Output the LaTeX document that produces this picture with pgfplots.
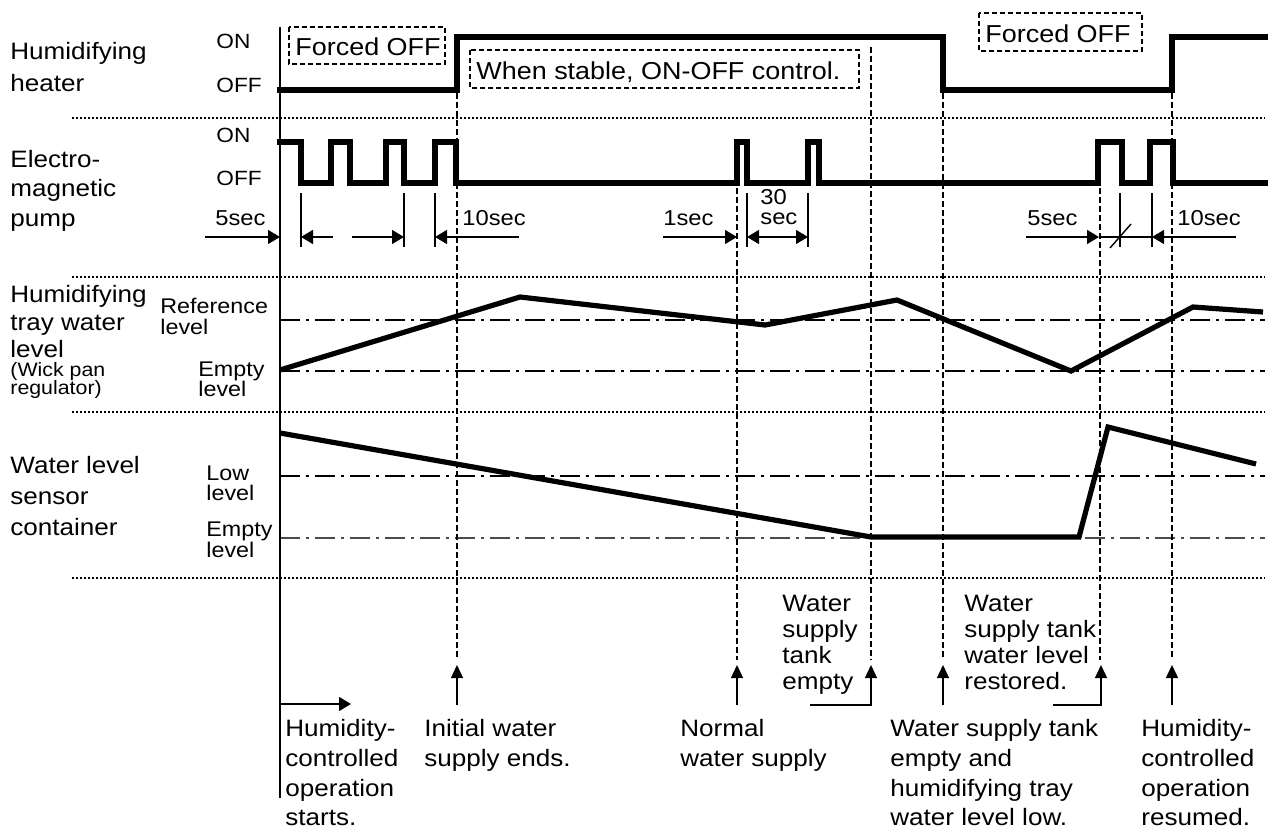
\documentclass[border=0pt]{standalone}
\usepackage{pgfplots}
\pgfplotsset{compat=1.18}
\usepackage{fontspec}
\setmainfont{Liberation Sans}[FakeStretch=1.1]
\usetikzlibrary{arrows.meta}
\begin{document}
\begin{tikzpicture}[
  big/.style={anchor=base west, inner sep=0pt, font=\fontsize{11.85}{14}\selectfont},
  med/.style={anchor=base west, inner sep=0pt, font=\fontsize{10.3}{12}\selectfont},
  tim/.style={anchor=base west, inner sep=0pt, font=\fontsize{10.8}{12}\selectfont},
  sml/.style={anchor=base west, inner sep=0pt, font=\fontsize{10.6}{12}\selectfont},
  tiny/.style={anchor=base west, inner sep=0pt, font=\fontsize{9.7}{11}\selectfont},
  box/.style={anchor=base west, inner sep=0pt, font=\fontsize{12.25}{14}\selectfont},
]
\begin{axis}[width=635pt, height=415pt, scale only axis,
  xmin=0, xmax=1270, ymin=0, ymax=830, y dir=reverse,
  hide axis, clip=false]
\path (axis cs:0,0) rectangle (axis cs:1270,830);
\pgfplotsset{sep/.style={black, line width=1pt, dash pattern=on 1pt off 1pt},
  lvl/.style={black, line width=0.7pt, dash pattern=on 10pt off 3pt on 1.5pt off 3pt},
  vd/.style={black, line width=0.8pt, dash pattern=on 3pt off 1.5pt},
  sig/.style={black, line width=2.6pt, line join=miter, line cap=rect},
  thin/.style={black, line width=0.7pt},
  tip/.style={-{Triangle[length=6pt,width=7pt]}},
  utip/.style={-{Triangle[length=6.5pt,width=6pt]}}}
% separators
\addplot[sep] coordinates {(72,118) (1265,118)};
\addplot[sep] coordinates {(72,277) (1265,277)};
\addplot[sep] coordinates {(72,412) (1265,412)};
\addplot[sep] coordinates {(72,578) (1265,578)};
% level lines
\addplot[lvl] coordinates {(280,320) (1265,320)};
\addplot[lvl] coordinates {(280,371) (1265,371)};
\addplot[lvl] coordinates {(280,476) (1265,476)};
\addplot[lvl, black!70] coordinates {(280,538) (1265,538)};
% vertical dashed lines
\addplot[vd] coordinates {(457,93) (457,660)};
\addplot[vd] coordinates {(737,188) (737,660)};
\addplot[vd] coordinates {(871,47) (871,660)};
\addplot[vd] coordinates {(943,93) (943,660)};
\addplot[vd] coordinates {(1100,188) (1100,660)};
\addplot[vd] coordinates {(1172,93) (1172,660)};
% solid start line
\addplot[thin] coordinates {(280,27) (280,798)};
\addplot[thin, tip] coordinates {(280,704) (351,704)};
% bottom arrows
\addplot[thin, utip] coordinates {(457,705) (457,665)};
\addplot[thin, utip] coordinates {(737,705) (737,665)};
\addplot[thin, utip] coordinates {(810,705) (871,705) (871,665)};
\addplot[thin, utip] coordinates {(943,705) (943,665)};
\addplot[thin, utip] coordinates {(1053,705) (1101,705) (1101,665)};
\addplot[thin, utip] coordinates {(1172,705) (1172,665)};
% timing ticks
\addplot[thin] coordinates {(301,193) (301,247)};
\addplot[thin] coordinates {(404,193) (404,247)};
\addplot[thin] coordinates {(435,193) (435,247)};
\addplot[thin] coordinates {(747,193) (747,247)};
\addplot[thin] coordinates {(808,193) (808,247)};
\addplot[thin] coordinates {(1120,193) (1120,247)};
\addplot[thin] coordinates {(1152,193) (1152,247)};
\addplot[thin, tip] coordinates {(205,237) (280,237)};
\addplot[thin, tip] coordinates {(333,237) (301,237)};
\addplot[thin, tip] coordinates {(352,237) (404,237)};
\addplot[thin, tip] coordinates {(519,237) (435,237)};
\addplot[thin, tip] coordinates {(663,237) (737,237)};
\addplot[thin, {Triangle[length=6pt,width=7pt]}-{Triangle[length=6pt,width=7pt]}] coordinates {(747,237) (808,237)};
\addplot[thin, tip] coordinates {(1026,237) (1099,237)};
\addplot[thin] coordinates {(1099,237) (1152,237)};
\addplot[thin] coordinates {(1110,248) (1131,224)};
\addplot[thin, tip] coordinates {(1236,237) (1152,237)};
% heater
\addplot[sig] coordinates {(280,90) (457,90) (457,37) (943,37) (943,90) (1172,90) (1172,37) (1265,37)};
% pump
\addplot[sig] coordinates {(280,142) (301,142) (301,183) (331,183) (331,142) (350,142) (350,183) (386,183) (386,142) (404,142) (404,183) (435,183) (435,142) (456,142) (456,183) (737,183) (737,142) (747,142) (747,183) (808,183) (808,142) (819,142) (819,183) (1098,183) (1098,142) (1122,142) (1122,183) (1150,183) (1150,142) (1173,142) (1173,183) (1265,183)};
% tray level
\addplot[sig, line cap=butt] coordinates {(280,370) (520,297) (765,325) (897,300) (1071,371) (1193,307) (1263,312)};
% container
\addplot[sig, line cap=butt] coordinates {(280,433) (871,537) (1079,537) (1108,427) (1256,464)};
% boxes
\draw[black, line width=0.7pt, dash pattern=on 2.5pt off 1.5pt] (axis cs:289,27) rectangle (axis cs:445,64);
\draw[black, line width=0.7pt, dash pattern=on 2.5pt off 1.5pt] (axis cs:470,50) rectangle (axis cs:859,88);
\draw[black, line width=0.7pt, dash pattern=on 2.5pt off 1.5pt] (axis cs:979,13) rectangle (axis cs:1142,51);
\node[box] at (axis cs:295,55) {Forced OFF};
\node[box] at (axis cs:476,79) {When stable, ON-OFF control.};
\node[box] at (axis cs:985,42) {Forced OFF};
% left labels
\node[big] at (axis cs:10,59) {Humidifying};
\node[big] at (axis cs:10,91) {heater};
\node[big] at (axis cs:10,167) {Electro-};
\node[big] at (axis cs:10,196) {magnetic};
\node[big] at (axis cs:10,226) {pump};
\node[big] at (axis cs:10,302) {Humidifying};
\node[big] at (axis cs:10,330) {tray water};
\node[big] at (axis cs:10,357) {level};
\node[tiny] at (axis cs:10,376) {(Wick pan};
\node[tiny] at (axis cs:10,394) {regulator)};
\node[big] at (axis cs:10,473) {Water level};
\node[big] at (axis cs:10,504) {sensor};
\node[big] at (axis cs:10,535) {container};
% ON/OFF
\node[med] at (axis cs:216,48) {ON};
\node[med] at (axis cs:216,92) {OFF};
\node[med] at (axis cs:216,142) {ON};
\node[med] at (axis cs:216,185) {OFF};
% level names
\node[sml] at (axis cs:160,313) {Reference};
\node[sml] at (axis cs:160,334) {level};
\node[sml] at (axis cs:198,376) {Empty};
\node[sml] at (axis cs:198,396) {level};
\node[sml] at (axis cs:206,480) {Low};
\node[sml] at (axis cs:206,500) {level};
\node[sml] at (axis cs:206,536) {Empty};
\node[sml] at (axis cs:206,557) {level};
% timing text
\node[tim] at (axis cs:215,225) {5sec};
\node[tim] at (axis cs:462,225) {10sec};
\node[tim] at (axis cs:663,225) {1sec};
\node[tim] at (axis cs:760,204) {30};
\node[tim] at (axis cs:760,224) {sec};
\node[tim] at (axis cs:1027,225) {5sec};
\node[tim] at (axis cs:1177,225) {10sec};
% bottom texts
\node[big] at (axis cs:285,736) {Humidity-};
\node[big] at (axis cs:285,766) {controlled};
\node[big] at (axis cs:285,796) {operation};
\node[big] at (axis cs:285,825) {starts.};
\node[big] at (axis cs:424,736) {Initial water};
\node[big] at (axis cs:424,766) {supply ends.};
\node[big] at (axis cs:680,736) {Normal};
\node[big] at (axis cs:680,766) {water supply};
\node[big] at (axis cs:782,611) {Water};
\node[big] at (axis cs:782,637) {supply};
\node[big] at (axis cs:782,663) {tank};
\node[big] at (axis cs:782,689) {empty};
\node[big] at (axis cs:964,611) {Water};
\node[big] at (axis cs:964,637) {supply tank};
\node[big] at (axis cs:964,663) {water level};
\node[big] at (axis cs:964,689) {restored.};
\node[big] at (axis cs:890,736) {Water supply tank};
\node[big] at (axis cs:890,766) {empty and};
\node[big] at (axis cs:890,796) {humidifying tray};
\node[big] at (axis cs:890,825) {water level low.};
\node[big] at (axis cs:1141,736) {Humidity-};
\node[big] at (axis cs:1141,766) {controlled};
\node[big] at (axis cs:1141,796) {operation};
\node[big] at (axis cs:1141,825) {resumed.};
\end{axis}
\end{tikzpicture}
\end{document}
